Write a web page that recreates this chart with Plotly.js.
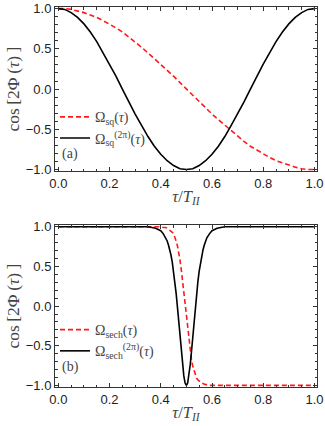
<!DOCTYPE html>
<html>
<head>
<meta charset="utf-8">
<script src="https://cdn.plot.ly/plotly-3.0.1.min.js"></script>
<style>
  html, body { margin: 0; padding: 0; background: #fff; }
  #myDiv { width: 325px; height: 426px; }
</style>
</head>
<body>
<div id="myDiv"></div>
<script>
// panel (a): tau sampled every 0.025
let tauA = [];
for (let i = 0; i <= 40; i++) tauA.push(i / 40);
let sqRed = [1, 1.00, 0.99, 0.97, 0.95, 0.92, 0.89, 0.85, 0.81, 0.76, 0.71, 0.65, 0.59, 0.52, 0.45, 0.38, 0.31, 0.23, 0.16, 0.08,
    0, -0.08, -0.16, -0.23, -0.31, -0.38, -0.45, -0.52, -0.59, -0.65, -0.71, -0.76, -0.81, -0.85, -0.89, -0.92, -0.95, -0.97, -0.99, -1.00, -1];
let sqBlack = [1, 0.99, 0.95, 0.89, 0.81, 0.71, 0.59, 0.45, 0.31, 0.16, 0, -0.16, -0.31, -0.45, -0.59, -0.71, -0.81, -0.89, -0.95, -0.99,
    -1, -0.99, -0.95, -0.89, -0.81, -0.71, -0.59, -0.45, -0.31, -0.16, 0, 0.16, 0.31, 0.45, 0.59, 0.71, 0.81, 0.89, 0.95, 0.99, 1];

// panel (b)
let tauB = [0, 0.1, 0.2, 0.3, 0.35, 0.38, 0.40, 0.41, 0.42, 0.425, 0.43, 0.435, 0.44, 0.445, 0.45, 0.455, 0.46, 0.465, 0.47, 0.475,
    0.48, 0.485, 0.49, 0.495, 0.5, 0.505, 0.51, 0.515, 0.52, 0.525, 0.53, 0.535, 0.54, 0.545, 0.55, 0.555, 0.56, 0.565, 0.57, 0.575,
    0.58, 0.59, 0.60, 0.62, 0.65, 0.7, 0.8, 0.9, 1.0];
let sechRed = [1, 1, 1, 1, 1, 1.00, 1.00, 0.99, 0.99, 0.98, 0.97, 0.96, 0.95, 0.93, 0.91, 0.87, 0.82, 0.76, 0.68, 0.58,
    0.46, 0.32, 0.17, 0, -0.17, -0.32, -0.46, -0.58, -0.68, -0.76, -0.82, -0.87, -0.91, -0.93, -0.95, -0.96, -0.97, -0.98, -0.99, -0.99,
    -0.99, -1.00, -1, -1, -1, -1, -1, -1, -1];
let sechBlack = [1, 1, 1, 1, 1.00, 0.98, 0.95, 0.91, 0.86, 0.82, 0.77, 0.71, 0.64, 0.55, 0.44, 0.31, 0.16, -0.01, -0.19, -0.38,
    -0.57, -0.74, -0.88, -0.97, -1, -0.97, -0.88, -0.74, -0.57, -0.38, -0.19, -0.01, 0.16, 0.31, 0.44, 0.55, 0.64, 0.71, 0.77, 0.82,
    0.86, 0.91, 0.95, 0.98, 1.00, 1, 1, 1, 1];

let yTicks = [-1, -0.5, 0, 0.5, 1];
let yTickText = ['\u22121.0', '\u22120.5', '0.0', '0.5', '1.0'];
let xTicks = [0, 0.2, 0.4, 0.6, 0.8, 1.0];
let xTickText = ['0.0', '0.2', '0.4', '0.6', '0.8', '1.0'];

let red = '#ff1a1a';
let frame = '#333';
let serif = {family: 'Liberation Serif, DejaVu Serif, serif', size: 14, color: '#444'};
let xTitleFont = {family: 'Liberation Serif, DejaVu Serif, serif', size: 16.5, color: '#444'};
let yTitleFont = {family: 'Liberation Serif, DejaVu Serif, serif', size: 17.5, color: '#444'};
let tickFont = {family: 'Liberation Sans, Arial, sans-serif', size: 13, color: '#222'};

function xAx(anchor) {
    return {
        anchor: anchor, range: [-0.013, 1.01], tickvals: xTicks, ticktext: xTickText,
        ticks: 'inside', ticklen: 4, tickwidth: 1, tickcolor: frame,
        minor: {dtick: 0.05, ticks: 'inside', ticklen: 2.5, tickcolor: frame},
        showline: true, linecolor: frame, linewidth: 1, mirror: 'ticks',
        showgrid: false, zeroline: false, tickfont: tickFont,
        title: {text: '<i>τ</i>/<i>T</i><sub><i>II</i></sub>', font: xTitleFont, standoff: 0}
    };
}
function yAx(anchor, dom) {
    return {
        anchor: anchor, domain: dom, range: [-1.02, 1.02], tickvals: yTicks, ticktext: yTickText,
        ticks: 'inside', ticklen: 4, tickwidth: 1, tickcolor: frame,
        minor: {dtick: 0.1, ticks: 'inside', ticklen: 2.5, tickcolor: frame},
        showline: true, linecolor: frame, linewidth: 1, mirror: 'ticks',
        showgrid: false, zeroline: false, tickfont: tickFont,
        title: {text: 'cos\u2009[2Φ\u2009(<i>τ</i>)\u2009]', font: yTitleFont, standoff: 1}
    };
}

let data = [
    {x: tauA, y: sqRed, xaxis: 'x', yaxis: 'y', mode: 'lines', type: 'scatter',
     line: {color: red, width: 1.6, dash: '5px,3px'}, name: 'Ω<sub>sq</sub>(<i>τ</i>)', legend: 'legend'},
    {x: tauA, y: sqBlack, xaxis: 'x', yaxis: 'y', mode: 'lines', type: 'scatter',
     line: {color: '#000', width: 1.6}, name: 'Ω<sub>sq</sub><sup>(2π)</sup>(<i>τ</i>)', legend: 'legend'},
    {x: tauB, y: sechRed, xaxis: 'x2', yaxis: 'y2', mode: 'lines', type: 'scatter',
     line: {color: red, width: 1.6, dash: '5px,3px'}, name: 'Ω<sub>sech</sub>(<i>τ</i>)', legend: 'legend2'},
    {x: tauB, y: sechBlack, xaxis: 'x2', yaxis: 'y2', mode: 'lines', type: 'scatter',
     line: {color: '#000', width: 1.6}, name: 'Ω<sub>sech</sub><sup>(2π)</sup>(<i>τ</i>)', legend: 'legend2'}
];

let legendBase = {
    xref: 'paper', yref: 'paper', x: 0.0, xanchor: 'left', yanchor: 'top',
    bgcolor: 'rgba(0,0,0,0)', borderwidth: 0, font: serif,
    itemwidth: 30, tracegroupgap: 0
};

let layout = {
    width: 325, height: 426,
    margin: {l: 55, r: 8, t: 7, b: 39},
    paper_bgcolor: '#fff', plot_bgcolor: '#fff',
    showlegend: true,
    xaxis: xAx('y'),
    yaxis: yAx('x', [0.568, 1]),
    xaxis2: xAx('y2'),
    yaxis2: yAx('x2', [0, 0.426]),
    legend: Object.assign({}, legendBase, {y: 0.752}),
    legend2: Object.assign({}, legendBase, {y: 0.192}),
    annotations: [
        {text: '(a)', xref: 'paper', yref: 'paper', x: 0.018, y: 0.613, xanchor: 'left', yanchor: 'middle', showarrow: false, font: serif},
        {text: '(b)', xref: 'paper', yref: 'paper', x: 0.018, y: 0.053, xanchor: 'left', yanchor: 'middle', showarrow: false, font: serif}
    ]
};

Plotly.newPlot('myDiv', data, layout, {displayModeBar: false, staticPlot: true});
</script>
</body>
</html>
